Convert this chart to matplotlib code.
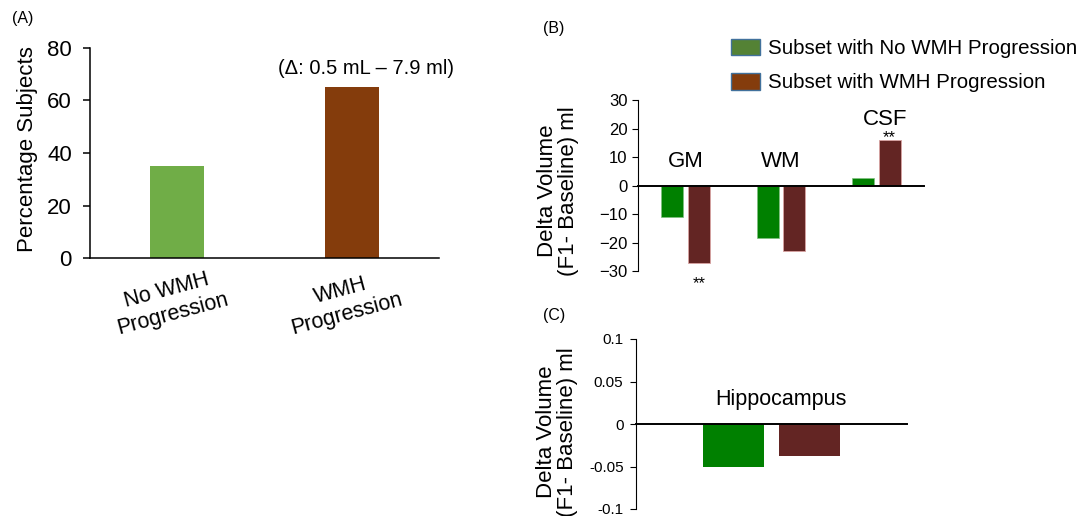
import matplotlib
matplotlib.use("Agg")
import numpy as np
import matplotlib.pyplot as plt
from matplotlib.patches import Patch
from matplotlib.transforms import ScaledTranslation

plt.rcParams['font.family'] = ['Liberation Sans', 'DejaVu Sans']

# (A) share of subjects
groups_a = ['No WMH\nProgression', 'WMH\nProgression']
pct_subjects = [35, 65]

# (B) delta volume by region
regions = ['GM', 'WM', 'CSF']
no_prog = [-11.1, -18.4, 2.5]
prog = [-27.3, -23.1, 16.0]

# (C) hippocampus
hippo_no = [-0.051]
hippo_prog = [-0.038]

series = ['Subset with No WMH Progression', 'Subset with WMH Progression']

W, H = 1085, 516
fig = plt.figure(figsize=(W / 100, H / 100), dpi=100)


def box(l, t, r, b):
    # pixel box -> figure fraction
    return [l / W, 1 - b / H, (r - l) / W, (b - t) / H]


# ---- panel A
axA = fig.add_axes(box(90, 48, 439, 258))
xa = np.arange(len(groups_a))
axA.bar(xa, pct_subjects, width=0.31, color=['#70AD47', '#843C0C'])
axA.set_xlim(-0.5, 1.5)
axA.set_ylim(0, 80)
axA.set_yticks([0, 20, 40, 60, 80])
axA.set_xticks(xa)
axA.tick_params(axis='x', length=0, pad=4)
axA.tick_params(axis='y', labelsize=16, length=5, width=1.1, pad=8)
axA.set_xticklabels(groups_a, rotation=15, fontsize=15.5, ha='center',
                    multialignment='center')
# labels sit a little left of the bars in the original
shift = ScaledTranslation(-8 / 100, -2 / 100, fig.dpi_scale_trans)
for lab in axA.get_xticklabels():
    lab.set_transform(lab.get_transform() + shift)
for s in ['top', 'right']:
    axA.spines[s].set_visible(False)
axA.spines['left'].set_linewidth(1.1)
axA.spines['bottom'].set_linewidth(1.1)
axA.set_ylabel('Percentage Subjects', fontsize=16, va='center')
axA.yaxis.set_label_coords(-0.18, 0.52)
axA.text(1.083, 72.3, '(\u0394: 0.5 mL \u2013 7.9 ml)', fontsize=14.5,
         ha='center', va='center')
fig.text(23 / W, 1 - 18 / H, '(A)', fontsize=11.5, ha='center', va='center')

# ---- panel B
axB = fig.add_axes(box(638, 100, 924, 271))
xb = np.arange(len(regions))
bw, off = 0.23, 0.141
axB.bar(xb - off, no_prog, width=bw, color='#008000', edgecolor='#7FBF7F',
        linewidth=0.5)
axB.bar(xb + off, prog, width=bw, color='#632523', edgecolor='#D9A3A3',
        linewidth=0.6)
axB.set_xlim(-0.5, 2.5)
axB.set_ylim(-30, 30)
axB.set_yticks(range(-30, 31, 10))
axB.set_xticks([])
axB.tick_params(axis='y', labelsize=12, length=4)
for s in ['top', 'right']:
    axB.spines[s].set_visible(False)
axB.spines['bottom'].set_position(('data', 0))
axB.spines['bottom'].set_linewidth(1.4)
axB.set_ylabel('Delta Volume\n(F1- Baseline) ml', fontsize=16, va='center',
               linespacing=1.0)
axB.yaxis.set_label_coords(-0.28, 0.47)
label_pos = [(0.0, 8.4), (1.0, 8.4), (2.09, 23.1)]
for name, (lx, ly) in zip(regions, label_pos):
    axB.text(lx, ly, name, fontsize=16, ha='center', va='center')
axB.text(0.141, -34.3, '**', fontsize=12, ha='center', va='center')
axB.text(2.135, 16.9, '**', fontsize=12, ha='center', va='center')
fig.text(553.7 / W, 1 - 28 / H, '(B)', fontsize=11.5, ha='center', va='center')

fig.legend(handles=[Patch(facecolor='#548235', edgecolor='#41719C', lw=1),
                    Patch(facecolor='#843C0C', edgecolor='#41719C', lw=1)],
           labels=series, loc='upper left', bbox_to_anchor=(731 / W, 1 - 39 / H),
           frameon=False, fontsize=14.8, handlelength=1.4, handleheight=0.85,
           handletextpad=0.4, labelspacing=0.72, borderpad=0, borderaxespad=0)

# ---- panel C
axC = fig.add_axes(box(636, 339, 907, 509))
axC.bar([-0.141], hippo_no, width=0.224, color='#008000')
axC.bar([0.141], hippo_prog, width=0.224, color='#632523')
axC.set_xlim(-0.5, 0.5)
axC.set_ylim(-0.1, 0.1)
axC.set_yticks([-0.1, -0.05, 0, 0.05, 0.1])
axC.set_yticklabels(['-0.1', '-0.05', '0', '0.05', '0.1'])
axC.set_xticks([])
axC.tick_params(axis='y', labelsize=11, length=4, pad=5)
for s in ['top', 'right']:
    axC.spines[s].set_visible(False)
axC.spines['bottom'].set_position(('data', 0))
axC.spines['bottom'].set_linewidth(1.4)
axC.set_ylabel('Delta Volume\n(F1- Baseline) ml', fontsize=16, va='center',
               linespacing=1.0)
axC.yaxis.set_label_coords(-0.29, 0.455)
axC.text(0.034, 0.029, 'Hippocampus', fontsize=15.5, ha='center', va='center')
fig.text(554 / W, 1 - 315.7 / H, '(C)', fontsize=11.5, ha='center', va='center')

fig.savefig('out.png', dpi=100)
